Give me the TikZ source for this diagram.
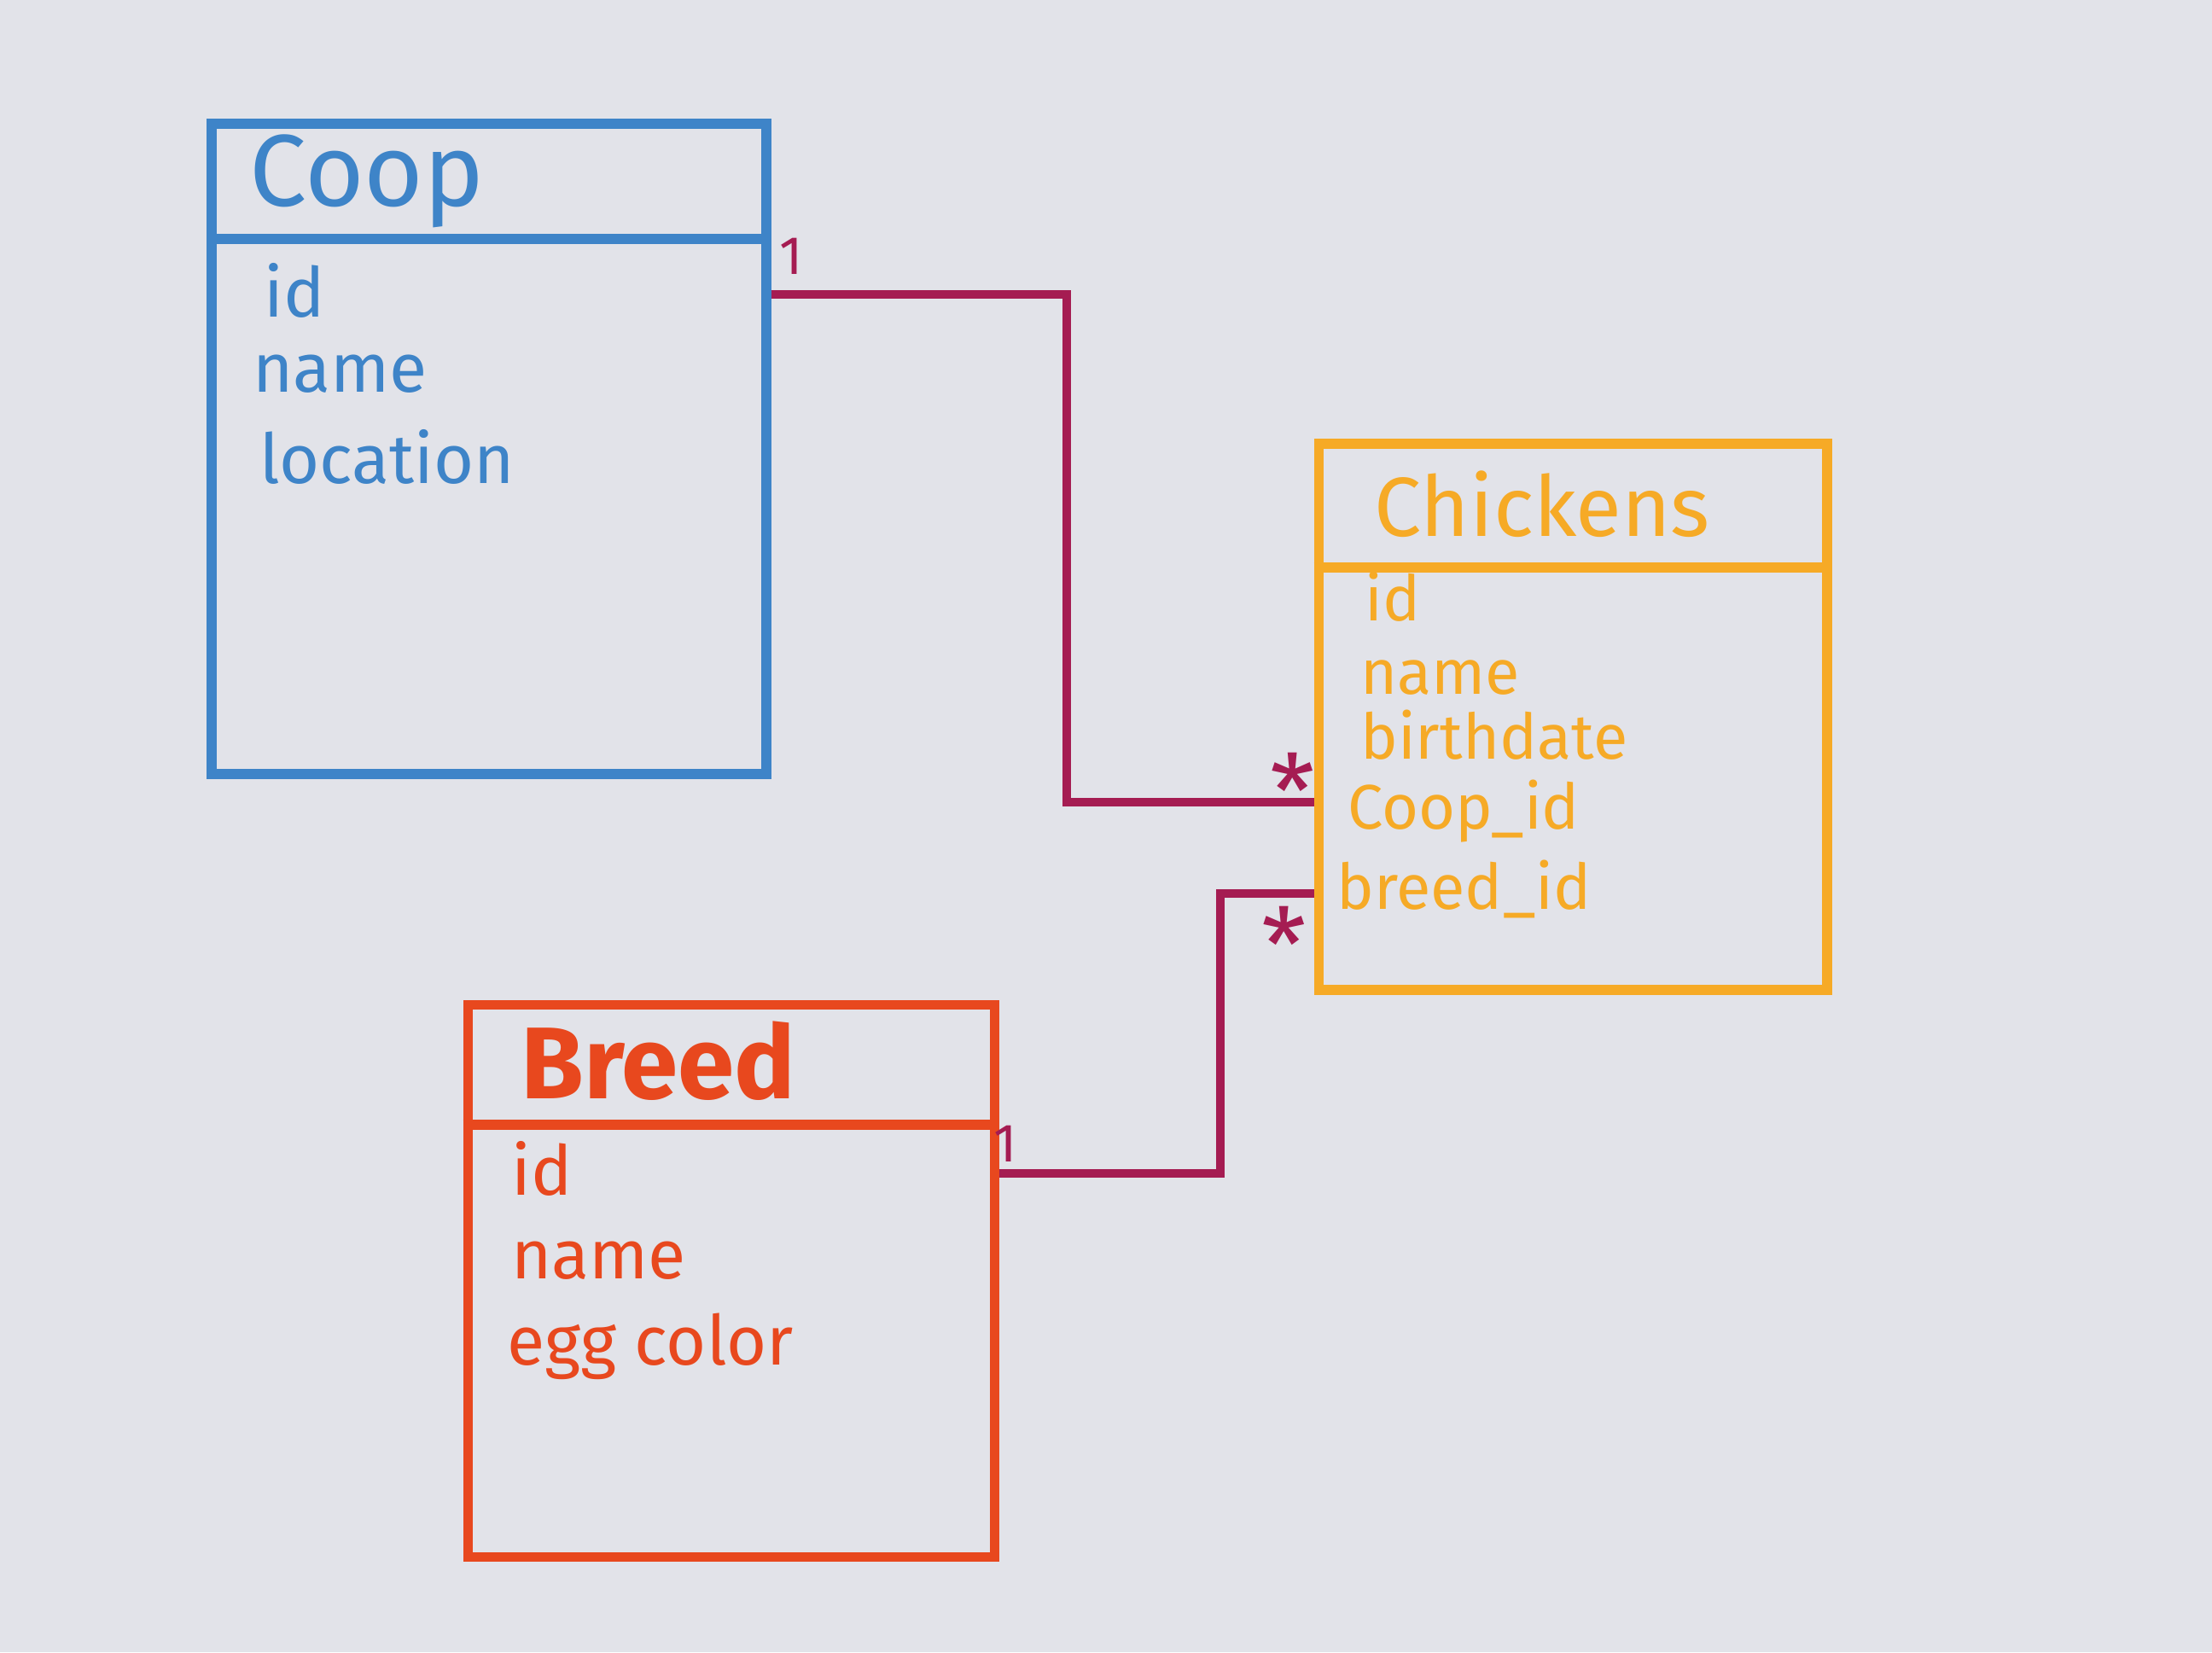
\documentclass[tikz,border=0pt]{standalone}
\usepackage{fontspec}
\setmainfont{Fira Sans}
\usetikzlibrary{positioning}
\definecolor{paper}{RGB}{226,227,233}
\definecolor{coopblue}{RGB}{62,132,200}
\definecolor{chickorange}{RGB}{246,170,38}
\definecolor{breedred}{RGB}{232,72,30}
\definecolor{linkred}{RGB}{165,28,82}

\begin{document}
\begin{tikzpicture}[
 tbl/.style={draw=#1, line width=3.4pt, inner sep=0pt},
 title/.style={text=#1, anchor=west, font=\fontsize{30}{34}\selectfont},
 field/.style={text=#1, anchor=base west, inner sep=1pt, font=\fontsize{23}{26}\selectfont},
 chkfield/.style={field=chickorange, font=\fontsize{21}{24}\selectfont},
 link/.style={draw=linkred, line width=2.8pt},
 mult/.style={text=linkred, font=\fontsize{18}{20}\selectfont}]
\fill[paper] (0,0) rectangle (25.92,19.36);
\useasboundingbox (0,0) rectangle (25.92,19.36);
% tables
\node[tbl=coopblue, minimum width=6.5cm, minimum height=7.62cm](coop) at (5.73,14.10){};
\node[tbl=chickorange, minimum width=5.95cm, minimum height=6.4cm](chk) at (18.43,10.96){};
\node[tbl=breedred, minimum width=6.17cm, minimum height=6.47cm](breed) at (8.57,4.35){};
\foreach \tb/\y/\col in {coop/16.56/coopblue, chk/12.71/chickorange, breed/6.18/breedred}
 \draw[\col, line width=3.4pt] (\tb.west |- 0,\y) -- (\tb.east |- 0,\y);
% titles
\node[title=coopblue, font=\fontsize{34}{38}\selectfont](cooptitle) at (2.8,17.24){Coop};
\node[title=chickorange, font=\fontsize{28}{32}\selectfont](chktitle) at (15.98,13.45){Chickens};
\node[title=breedred, font=\fontsize{34}{38}\selectfont\bfseries](breedtitle) at (5.98,6.93){Breed};
% fields
\node[field=coopblue](coopid) at (3.05,15.64){id};
\node[field=coopblue](coopname) at (2.92,14.76){name};
\node[field=coopblue](cooploc) at (3.0,13.69){location};
\node[chkfield](chkid) at (15.95,12.08){id};
\node[chkfield](chkname) at (15.9,11.22){name};
\node[chkfield](chkbirth) at (15.9,10.46){birthdate};
\node[chkfield](chkcoop) at (15.75,9.64){Coop\_id};
\node[chkfield](chkbreed) at (15.62,8.70){breed\_id};
\node[field=breedred](breedid) at (5.95,5.36){id};
\node[field=breedred](breedname) at (5.95,4.38){name};
\node[field=breedred](breedegg) at (5.9,3.37){egg color};
% links
\coordinate (kneeA) at (12.5,12);
\coordinate (kneeB) at (14.3,7);
\draw[link] (coop.east |- 0,15.91) -| (kneeA) |- (chk.west |- 0,9.96);
\draw[link] (breed.east |- 0,5.61) -| (kneeB) |- (chk.west |- 0,8.89);
\node[mult](m1) at (9.27,16.36){1};
\node[mult](m2) at (11.78,5.96){1};
\node[mult, font=\fontsize{34}{36}\selectfont](s1) at (15.15,10.1){*};
\node[mult, font=\fontsize{34}{36}\selectfont](s2) at (15.05,8.3){*};
\end{tikzpicture}
\end{document}
